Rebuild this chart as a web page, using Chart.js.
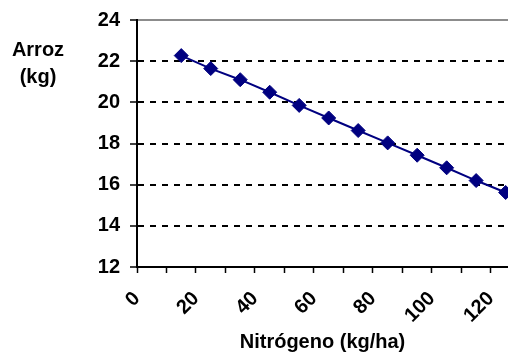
<!DOCTYPE html>
<html>
<head>
<meta charset="utf-8">
<script src="https://cdn.jsdelivr.net/npm/chart.js@4"></script>
<style>
  html, body { margin: 0; padding: 0; background: #fff; overflow: hidden; width: 508px; height: 354px; }
  #wrap { width: 508px; height: 354px; position: relative; }
</style>
</head>
<body>
<div id="wrap"><canvas id="c"></canvas></div>
<script>
const nitrogeno = [15, 25, 35, 45, 55, 65, 75, 85, 95, 105, 115, 125];
const arroz = [22.27, 21.64, 21.1, 20.49, 19.85, 19.24, 18.63, 18.03, 17.43, 16.82, 16.2, 15.62];
const yTitleLines = ['Arroz', '(kg)'];
const xTitle = 'Nitrógeno (kg/ha)';

const FONT = "'Liberation Sans', Arial, sans-serif";

const yTitlePlugin = {
  id: 'yTitle',
  afterDraw(chart) {
    const ctx = chart.ctx;
    ctx.save();
    ctx.font = 'bold 20px ' + FONT;
    ctx.fillStyle = '#000';
    ctx.textAlign = 'center';
    ctx.textBaseline = 'alphabetic';
    ctx.fillText(yTitleLines[0], 38, 56);
    ctx.fillText(yTitleLines[1], 38, 83);
    ctx.restore();
  }
};

const chart = new Chart(document.getElementById('c'), {
  type: 'line',
  data: {
    datasets: [{
      data: nitrogeno.map((x, i) => ({ x: x, y: arroz[i] })),
      borderColor: '#000080',
      backgroundColor: '#000080',
      borderWidth: 2,
      pointStyle: 'rectRot',
      pointRadius: 7,
      pointBorderWidth: 1,
      pointBackgroundColor: '#000080',
      pointBorderColor: '#000080',
      tension: 0,
      fill: false,
      clip: false
    }]
  },
  options: {
    responsive: true,
    maintainAspectRatio: false,
    animation: false,
    layout: { padding: { top: 20, left: 0, right: 0, bottom: 0 } },
    plugins: { legend: { display: false }, tooltip: { enabled: false } },
    scales: {
      x: {
        type: 'linear',
        min: 0,
        max: 125.8,
        afterFit: s => { s.height = 87; s.paddingRight = 0; s.paddingLeft = 0; },
        ticks: {
          stepSize: 10,
          includeBounds: false,
          autoSkip: false,
          maxRotation: 45,
          minRotation: 45,
          padding: 14,
          color: '#000',
          font: { family: FONT, size: 20, weight: 'bold' },
          callback: v => (v % 20 === 0 ? String(v) : '')
        },
        grid: {
          drawOnChartArea: false,
          drawTicks: true,
          tickLength: 6,
          tickColor: '#000',
          tickWidth: 1.5
        },
        border: { display: true, color: '#000', width: 2 },
        title: {
          display: true,
          text: xTitle,
          color: '#000',
          font: { family: FONT, size: 20, weight: 'bold' },
          padding: { top: 0, bottom: 0 }
        }
      },
      y: {
        min: 12,
        max: 24,
        afterFit: s => { s.width = 137; s.paddingTop = 0; s.paddingBottom = 0; },
        ticks: {
          stepSize: 2,
          padding: 10,
          color: '#000',
          font: { family: FONT, size: 20, weight: 'bold' }
        },
        grid: {
          color: c => (c.tick && c.tick.value === 24 ? '#8c8c8c' : '#000'),
          lineWidth: 2,
          tickLength: 7,
          tickColor: '#000',
          tickWidth: 1.5
        },
        border: {
          display: true,
          color: '#000',
          width: 2,
          dash: c => (c.tick && c.tick.value === 24 ? [] : [6, 6])
        }
      }
    }
  },
  plugins: [yTitlePlugin]
});

// The reference plot area runs off the right edge of the picture: widen the
// canvas so the chart area ends exactly at the window edge (x = 508).
const gap = 508 - chart.chartArea.right;
if (gap > 0.5) {
  const w = Math.round(508 + gap);
  document.getElementById('wrap').style.width = w + 'px';
  chart.resize(w, 354);
}
</script>
</body>
</html>
